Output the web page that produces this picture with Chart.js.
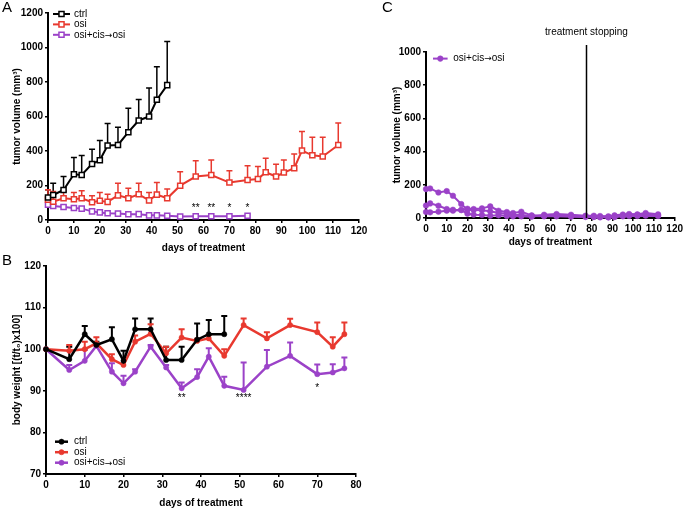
<!DOCTYPE html>
<html>
<head>
<meta charset="utf-8">
<script src="https://cdn.jsdelivr.net/npm/chart.js@4.4.0/dist/chart.umd.min.js"></script>
<style>
  body { margin: 0; background: #fff; width: 685px; height: 510px; position: relative; overflow: hidden;
         font-family: "Liberation Sans", Arial, sans-serif; }
  canvas { position: absolute; }
  .panel { position: absolute; font-size: 15px; color: #000; z-index: 2; }
</style>
</head>
<body>
<canvas id="chartA" width="370" height="255" style="left:0;top:0"></canvas>
<canvas id="chartB" width="370" height="255" style="left:0;top:255px"></canvas>
<canvas id="chartC" width="315" height="255" style="left:370px;top:0"></canvas>
<div class="panel" style="left:2px;top:-2px">A</div>
<div class="panel" style="left:2px;top:251px">B</div>
<div class="panel" style="left:382px;top:-2px">C</div>

<script>
// Panel A: tumor volume (mean, upper SD)
const daysA_ctrl = [0, 2, 6, 10, 13, 17, 20, 23, 27, 31, 35, 39, 42, 46];
const ctrlA = [130, 145, 174, 265, 261, 325, 346, 432, 435, 509, 577, 600, 697, 782];
const ctrlA_top = [175, 213, 252, 362, 374, 410, 461, 559, 538, 648, 699, 765, 888, 1035];

const daysA_osi = [0, 2, 6, 10, 13, 17, 20, 23, 27, 31, 35, 39, 42, 46, 51, 57, 63, 70, 77, 81, 84, 88, 91, 95, 98, 102, 106, 112];
const osiA = [118, 106, 126, 120, 126, 103, 112, 105, 143, 126, 149, 114, 147, 126, 199, 252, 261, 217, 232, 238, 277, 252, 275, 300, 403, 375, 368, 435];
const osiA_top = [175, 165, 168, 160, 170, 141, 160, 149, 213, 184, 213, 160, 217, 180, 279, 343, 348, 286, 315, 310, 358, 323, 348, 383, 513, 480, 480, 563];

const daysA_combo = [0, 2, 6, 10, 13, 17, 20, 23, 27, 31, 35, 39, 42, 46, 51, 57, 63, 70, 77];
const comboA = [88, 81, 75, 70, 66, 50, 44, 39, 37, 33, 34, 27, 27, 25, 20, 22, 22, 22, 25];
const comboA_top = [100, 90, 84, 80, 75, 58, 52, 46, 43, 39, 40, 32, 32, 30, 25, 27, 27, 27, 30];

const sigDaysA = [57, 63, 70, 77];
const sigMarksA = ['**', '**', '*', '*'];
const sigLevelA = [70, 70, 70, 70];

// Panel B: body weight
const daysB_ctrl = [0, 6, 10, 13, 17, 20, 23, 27, 31, 35, 39, 42, 46];
const ctrlB = [100, 97.6, 103.6, 101, 102.4, 97.2, 104.8, 104.8, 97.4, 97.4, 102.3, 103.6, 103.6];
const ctrlB_top = [100, 100.6, 105.6, 101.8, 105.3, 99.6, 107.4, 107.4, 100.6, 100.6, 106.2, 107, 108];

const daysB = [0, 6, 10, 13, 17, 20, 23, 27, 31, 35, 39, 42, 46, 51, 57, 63, 70, 74, 77];
const osiB = [100, 99.6, 100, 101.4, 97.6, 96.2, 101.8, 103.7, 99, 102.8, 102, 102.6, 98.4, 105.8, 102.6, 105.8, 104.1, 100.6, 103.6];
const osiB_top = [100, 101, 101.8, 102.9, 98.8, 96.2, 103.3, 106, 100.6, 104.8, 102.5, 103.4, 100, 107.4, 104.1, 107.3, 106.4, 102.9, 106.4];
const comboB = [100, 95, 97.2, 100.8, 94.6, 91.8, 94.6, 100.6, 95.6, 90.6, 93.3, 98.2, 91.2, 90.2, 95.8, 98.4, 94, 94.4, 95.4];
const comboB_top = [100, 96.2, 99.8, 101.3, 96.6, 93.6, 95.2, 101, 96.2, 92, 95.2, 100.2, 93.4, 96.8, 99.8, 101.6, 96.3, 96.4, 98];

const sigDaysB = [35, 51, 70];
const sigMarksB = ['**', '****', '*'];
const sigLevelB = [88.1, 88.1, 90.7];

// Panel C: individual mice, osi+cis->osi
const daysC = [0, 2, 6, 10, 13, 17, 20, 23, 27, 31, 35, 39, 42, 46, 51, 57, 63, 70, 77, 81, 84, 88, 91, 95, 98, 102, 106, 112];
const mouse1 = [174, 178, 154, 162, 134, 84, 50, 48, 46, 40, 30, 26, 20, 18, 12, 10, 10, 8, 6, 6, 4, 4, 6, 10, 12, 12, 14, 12];
const mouse2 = [75, 88, 74, 54, 50, 48, 56, 54, 58, 70, 44, 36, 30, 38, 16, 14, 16, 12, 10, 8, 6, 4, 8, 14, 20, 18, 22, 16];
const mouse3 = [36, 34, 38, 44, 44, 48, 26, 20, 18, 14, 16, 12, 10, 10, 8, 20, 24, 20, 14, 14, 12, 10, 16, 21, 24, 22, 30, 22];
const stopDay = 77;

const BLACK = '#000000';
const RED = '#e8392f';
const PURPLE = '#9b42c8';
const FONT = '"Liberation Sans", Arial, sans-serif';
const ARROW_FONT = '"DejaVu Sans", sans-serif';

Chart.defaults.font.family = FONT;
Chart.defaults.color = '#000';

function pts(xs, ys) {
  return xs.map((x, i) => ({ x: x, y: ys[i] }));
}

// error bars (upper side only, with cap)
const errorBars = {
  id: 'errorBars',
  beforeDatasetsDraw(chart) {
    const ctx = chart.ctx;
    const xs = chart.scales.x, ys = chart.scales.y;
    chart.data.datasets.forEach(ds => {
      if (!ds.errTop) return;
      ctx.save();
      ctx.strokeStyle = ds.borderColor;
      ctx.lineWidth = ds.errWidth || 1.5;
      ds.data.forEach((p, i) => {
        const x = xs.getPixelForValue(p.x);
        const y0 = ys.getPixelForValue(p.y);
        const y1 = ys.getPixelForValue(ds.errTop[i]);
        if (y0 - y1 < 1.5) return;
        ctx.beginPath();
        ctx.moveTo(x, y0);
        ctx.lineTo(x, y1);
        ctx.moveTo(x - 3, y1);
        ctx.lineTo(x + 3, y1);
        ctx.stroke();
      });
      ctx.restore();
    });
  }
};

function marker(ctx, ds, x, y) {
  ctx.lineWidth = ds.pointBorderWidth;
  ctx.strokeStyle = ds.borderColor;
  ctx.fillStyle = ds.pointBackgroundColor;
  const r = ds.pointRadius;
  ctx.beginPath();
  if (ds.pointStyle === 'rect') {
    const s = r * Math.SQRT1_2;
    ctx.rect(x - s, y - s, 2 * s, 2 * s);
  } else {
    ctx.arc(x, y, r, 0, Math.PI * 2);
  }
  ctx.fill();
  ctx.stroke();
}

// label text; the arrow comes from DejaVu so it sits at mid height
function drawLabel(ctx, text, x, y) {
  const parts = text.split('\u2192');
  parts.forEach((part, i) => {
    ctx.font = '10px ' + FONT;
    ctx.fillText(part, x, y);
    x += ctx.measureText(part).width;
    if (i < parts.length - 1) {
      ctx.font = '9px ' + ARROW_FONT;
      ctx.fillText('\u2192', x, y + 0.5);
      x += ctx.measureText('\u2192').width;
    }
  });
}

// legend drawn as line + marker + label
const lineLegend = {
  id: 'lineLegend',
  afterDraw(chart, args, opts) {
    if (!opts.items) return;
    const ctx = chart.ctx, area = chart.chartArea;
    ctx.save();
    ctx.textBaseline = 'middle';
    opts.items.forEach((idx, row) => {
      const ds = chart.data.datasets[idx];
      const y = area.top + opts.top + row * opts.gap;
      const x0 = area.left + opts.left, x1 = area.left + opts.left + opts.len;
      ctx.strokeStyle = ds.borderColor;
      ctx.lineWidth = ds.borderWidth;
      ctx.beginPath();
      ctx.moveTo(x0, y);
      ctx.lineTo(x1, y);
      ctx.stroke();
      marker(ctx, ds, (x0 + x1) / 2, y);
      ctx.fillStyle = '#000';
      drawLabel(ctx, ds.label, area.left + opts.text, y);
    });
    ctx.restore();
  }
};

// significance marks and the treatment-stop line
const notes = {
  id: 'notes',
  afterDraw(chart, args, opts) {
    const ctx = chart.ctx, area = chart.chartArea;
    const xs = chart.scales.x, ys = chart.scales.y;
    ctx.save();
    ctx.fillStyle = '#000';
    ctx.font = '10px ' + FONT;
    ctx.textAlign = 'center';
    ctx.textBaseline = 'middle';
    if (opts.sigDays) {
      opts.sigDays.forEach((d, i) => {
        ctx.fillText(opts.sigMarks[i], xs.getPixelForValue(d), ys.getPixelForValue(opts.sigLevel[i]));
      });
    }
    if (opts.stop != null) {
      const x = Math.round(xs.getPixelForValue(opts.stop)) + 0.5;
      ctx.strokeStyle = '#000';
      ctx.lineWidth = 1.5;
      ctx.beginPath();
      ctx.moveTo(x, area.top - 7);
      ctx.lineTo(x, area.bottom);
      ctx.stroke();
      ctx.fillText(opts.stopLabel, x, area.top - 20);
    }
    ctx.restore();
  }
};

function axis(min, max, step, title, size, titlePad) {
  return {
    type: 'linear', min: min, max: max,
    border: { display: true, color: '#000', width: 2 },
    grid: { display: true, drawOnChartArea: false, drawTicks: true, tickLength: 3, color: '#000', lineWidth: 1.5 },
    ticks: { stepSize: step, maxTicksLimit: 20, autoSkip: false, maxRotation: 0, padding: 2,
             font: { size: 10, weight: 'bold' }, color: '#000', callback: v => String(v) },
    title: { display: true, text: title, font: { size: 10, weight: 'bold' }, color: '#000', padding: titlePad },
    afterFit: s => { if (s.isHorizontal()) s.height = size; else s.width = size; }
  };
}

function series(label, xs, ys, color, style, radius, width, top) {
  return {
    label: label, data: pts(xs, ys), errTop: top,
    borderColor: color, backgroundColor: color, borderWidth: width,
    pointStyle: style, pointRadius: radius, pointHoverRadius: radius,
    pointBorderWidth: style === 'rect' ? 1.5 : 0.5,
    pointBackgroundColor: style === 'rect' ? '#fff' : color,
    tension: 0, clip: false, errWidth: style === 'rect' ? 1.5 : 2
  };
}

const common = {
  responsive: false, animation: false, devicePixelRatio: 1,
  events: []
};

new Chart(document.getElementById('chartA'), {
  type: 'line',
  data: {
    datasets: [
      series('ctrl', daysA_ctrl, ctrlA, BLACK, 'rect', 3.6, 2, ctrlA_top),
      series('osi', daysA_osi, osiA, RED, 'rect', 3.6, 2, osiA_top),
      series('osi+cis\u2192osi', daysA_combo, comboA, PURPLE, 'rect', 3.6, 2, comboA_top)
    ]
  },
  options: Object.assign({}, common, {
    layout: { padding: { left: 0, top: 13, right: 11, bottom: 0 } },
    scales: {
      x: axis(0, 120, 10, 'days of treatment', 35, { top: 0, bottom: 1 }),
      y: axis(0, 1200, 200, 'tumor volume (mm\u00b3)', 48, { top: 11, bottom: 0 })
    },
    plugins: {
      legend: { display: false }, tooltip: { enabled: false },
      lineLegend: { items: [0, 1, 2], top: 1, gap: 10.4, left: 5, len: 17, text: 26 },
      notes: { sigDays: sigDaysA, sigMarks: sigMarksA, sigLevel: sigLevelA }
    }
  }),
  plugins: [errorBars, lineLegend, notes]
});

new Chart(document.getElementById('chartB'), {
  type: 'line',
  data: {
    datasets: [
      series('ctrl', daysB_ctrl, ctrlB, BLACK, 'circle', 2.6, 2.5, ctrlB_top),
      series('osi', daysB, osiB, RED, 'circle', 2.6, 2.5, osiB_top),
      series('osi+cis\u2192osi', daysB, comboB, PURPLE, 'circle', 2.6, 2.5, comboB_top)
    ]
  },
  options: Object.assign({}, common, {
    layout: { padding: { left: 0, top: 11, right: 14, bottom: 0 } },
    scales: {
      x: axis(0, 80, 10, 'days of treatment', 36, { top: 0, bottom: 1 }),
      y: axis(70, 120, 10, 'body weight [(t/t\u2080)x100]', 46, { top: 11, bottom: 0 })
    },
    plugins: {
      legend: { display: false }, tooltip: { enabled: false },
      lineLegend: { items: [0, 1, 2], top: 175.7, gap: 10.5, left: 9, len: 13, text: 28 },
      notes: { sigDays: sigDaysB, sigMarks: sigMarksB, sigLevel: sigLevelB }
    }
  }),
  plugins: [errorBars, lineLegend, notes]
});

new Chart(document.getElementById('chartC'), {
  type: 'line',
  data: {
    datasets: [
      series('osi+cis\u2192osi', daysC, mouse1, PURPLE, 'circle', 2.8, 2, null),
      series('osi+cis\u2192osi', daysC, mouse2, PURPLE, 'circle', 2.8, 2, null),
      series('osi+cis\u2192osi', daysC, mouse3, PURPLE, 'circle', 2.8, 2, null)
    ]
  },
  options: Object.assign({}, common, {
    layout: { padding: { left: 0, top: 52, right: 10, bottom: 0 } },
    scales: {
      x: axis(0, 120, 10, 'days of treatment', 37, { top: 0, bottom: 7 }),
      y: axis(0, 1000, 200, 'tumor volume (mm\u00b3)', 56, { top: 21, bottom: 0 })
    },
    plugins: {
      legend: { display: false }, tooltip: { enabled: false },
      lineLegend: { items: [0], top: 6.6, gap: 10, left: 7, len: 14.6, text: 27.3 },
      notes: { stop: stopDay, stopLabel: 'treatment stopping' }
    }
  }),
  plugins: [errorBars, lineLegend, notes]
});
</script>
</body>
</html>
